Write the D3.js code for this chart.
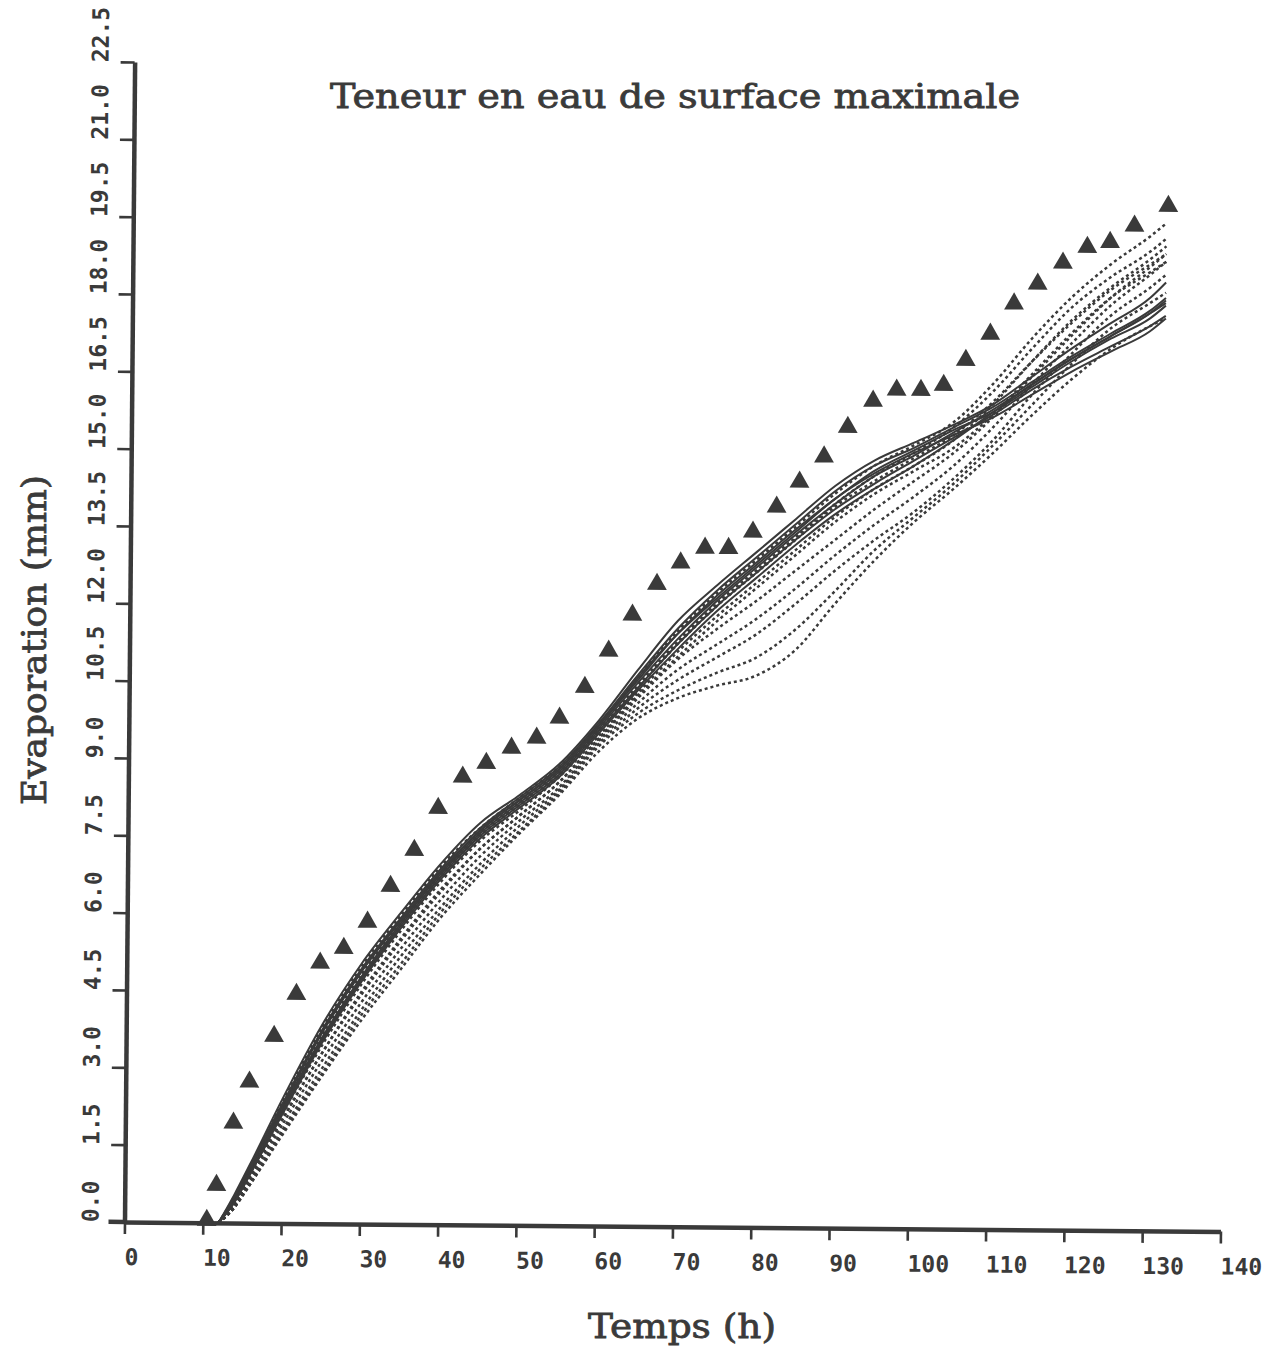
<!DOCTYPE html>
<html>
<head>
<meta charset="utf-8">
<script src="https://cdn.jsdelivr.net/npm/d3@7"></script>
<style>
  body { margin:0; background:#fff; }
  svg { display:block; }
</style>
</head>
<body>
<svg id="chart"></svg>
<script>
// measured points (triangles)
var obsTime = [10.5, 11.7, 13.8, 15.8, 18.9, 21.7, 24.7, 27.7, 30.7, 33.6, 36.6, 39.6, 42.7, 45.7, 48.9, 52.1, 55.0, 58.2, 61.2, 64.2, 67.3, 70.3, 73.4, 76.4, 79.5, 82.5, 85.4, 88.5, 91.5, 94.7, 97.7, 100.8, 103.7, 106.5, 109.6, 112.6, 115.6, 118.8, 121.9, 124.8, 127.9, 132.2];
var obsEvap = [0.05, 0.73, 1.94, 2.74, 3.63, 4.45, 5.06, 5.35, 5.86, 6.56, 7.26, 8.08, 8.69, 8.96, 9.26, 9.46, 9.85, 10.45, 11.16, 11.86, 12.46, 12.88, 13.17, 13.17, 13.49, 13.98, 14.47, 14.96, 15.54, 16.05, 16.27, 16.27, 16.37, 16.86, 17.37, 17.96, 18.35, 18.76, 19.07, 19.17, 19.49, 19.88];

// simulated curves, all on the same time steps
var simTime = [12, 14, 16, 20, 25, 30, 35, 40, 45, 50, 55, 60, 65, 70, 75, 80, 85, 90, 95, 100, 105, 110, 115, 120, 125, 130, 132];

var solidRuns = [
  [0, 0.55, 1.15, 2.4, 3.85, 5.05, 6.05, 7.0, 7.8, 8.35, 8.95, 9.8, 10.8, 11.75, 12.45, 13.1, 13.75, 14.4, 14.9, 15.25, 15.6, 16.0, 16.55, 17.1, 17.6, 18.1, 18.4],
  [0, 0.5, 1.1, 2.3, 3.75, 4.95, 5.95, 6.9, 7.7, 8.3, 8.9, 9.75, 10.7, 11.6, 12.35, 13.0, 13.65, 14.3, 14.8, 15.15, 15.55, 15.95, 16.45, 16.95, 17.4, 17.85, 18.1],
  [0, 0.45, 1.05, 2.25, 3.7, 4.9, 5.9, 6.85, 7.65, 8.25, 8.85, 9.7, 10.6, 11.5, 12.25, 12.9, 13.55, 14.15, 14.7, 15.1, 15.5, 15.85, 16.35, 16.85, 17.3, 17.7, 17.95],
  [0, 0.45, 1.0, 2.2, 3.6, 4.8, 5.85, 6.8, 7.6, 8.2, 8.8, 9.65, 10.55, 11.4, 12.15, 12.8, 13.45, 14.05, 14.6, 15.0, 15.45, 15.9, 16.4, 16.9, 17.35, 17.8, 18.05],
  [0, 0.4, 0.95, 2.15, 3.55, 4.75, 5.8, 6.75, 7.55, 8.15, 8.75, 9.6, 10.45, 11.3, 12.05, 12.7, 13.35, 13.95, 14.45, 14.9, 15.35, 15.8, 16.3, 16.75, 17.15, 17.55, 17.75],
  [0, 0.4, 0.95, 2.1, 3.5, 4.7, 5.75, 6.7, 7.5, 8.1, 8.7, 9.55, 10.4, 11.2, 11.95, 12.6, 13.25, 13.85, 14.35, 14.8, 15.3, 15.85, 16.4, 16.9, 17.35, 17.8, 18.0],
  [0, 0.5, 1.1, 2.3, 3.7, 4.9, 5.9, 6.85, 7.65, 8.25, 8.85, 9.7, 10.65, 11.5, 12.2, 12.85, 13.5, 14.15, 14.65, 15.05, 15.4, 15.75, 16.2, 16.65, 17.05, 17.45, 17.7]
];

var dottedRuns = [
  [0, 0.5, 1.1, 2.35, 3.8, 5.0, 6.0, 6.95, 7.7, 8.3, 8.9, 9.7, 10.65, 11.55, 12.3, 12.95, 13.6, 14.25, 14.8, 15.2, 15.65, 16.4, 17.3, 18.1, 18.75, 19.3, 19.55],
  [0, 0.45, 1.05, 2.25, 3.65, 4.85, 5.85, 6.8, 7.6, 8.2, 8.8, 9.6, 10.5, 11.35, 12.1, 12.75, 13.4, 14.05, 14.6, 15.05, 15.55, 16.25, 17.1, 17.9, 18.5, 19.0, 19.25],
  [0, 0.4, 0.95, 2.1, 3.45, 4.65, 5.7, 6.65, 7.45, 8.05, 8.7, 9.5, 10.35, 11.15, 11.85, 12.5, 13.15, 13.8, 14.35, 14.8, 15.3, 16.0, 16.85, 17.65, 18.3, 18.85, 19.1],
  [0, 0.35, 0.9, 2.0, 3.3, 4.5, 5.55, 6.5, 7.3, 7.95, 8.6, 9.45, 10.3, 11.05, 11.75, 12.4, 13.05, 13.7, 14.25, 14.7, 15.15, 15.8, 16.6, 17.4, 18.1, 18.6, 18.8],
  [0, 0.45, 1.0, 2.2, 3.55, 4.75, 5.8, 6.75, 7.55, 8.15, 8.75, 9.6, 10.45, 11.3, 12.05, 12.7, 13.35, 14.0, 14.5, 14.95, 15.4, 16.05, 16.85, 17.6, 18.25, 18.75, 18.95],
  [0, 0.35, 0.9, 2.0, 3.3, 4.45, 5.5, 6.45, 7.3, 7.95, 8.6, 9.45, 10.25, 11.0, 11.6, 12.15, 12.75, 13.35, 13.95, 14.5, 15.05, 15.75, 16.55, 17.35, 18.1, 18.7, 18.95],
  [0, 0.3, 0.85, 1.9, 3.15, 4.3, 5.35, 6.3, 7.15, 7.85, 8.5, 9.4, 10.15, 10.8, 11.3, 11.8, 12.4, 13.05, 13.65, 14.2, 14.8, 15.55, 16.4, 17.2, 17.95, 18.55, 18.8],
  [0, 0.3, 0.8, 1.8, 3.0, 4.15, 5.2, 6.15, 7.0, 7.75, 8.45, 9.35, 10.05, 10.6, 11.05, 11.5, 12.1, 12.75, 13.35, 13.9, 14.55, 15.3, 16.2, 17.0, 17.75, 18.3, 18.55],
  [0, 0.3, 0.75, 1.75, 2.9, 4.05, 5.05, 6.05, 6.9, 7.65, 8.4, 9.3, 9.95, 10.4, 10.75, 11.05, 11.6, 12.35, 13.15, 13.8, 14.45, 15.2, 16.0, 16.8, 17.5, 18.0, 18.2],
  [0, 0.3, 0.75, 1.7, 2.85, 3.95, 4.95, 5.95, 6.8, 7.6, 8.35, 9.2, 9.85, 10.25, 10.5, 10.7, 11.2, 12.1, 12.95, 13.7, 14.35, 15.05, 15.8, 16.5, 17.1, 17.55, 17.7]
];

var xTicks = [0, 10, 20, 30, 40, 50, 60, 70, 80, 90, 100, 110, 120, 130, 140];
var yTicks = [0, 1.5, 3, 4.5, 6, 7.5, 9, 10.5, 12, 13.5, 15, 16.5, 18, 19.5, 21, 22.5];

var titleText = "Teneur en eau de surface maximale";
var xTitle = "Temps (h)";
var yTitle = "Evaporation (mm)";

var ink = "#3a3a3a";

var drawChart = function()
{
    var screen = {width:1269, height:1348};
    // origin of the plot on the page, the scan is turned a little
    var origin = {x:124.5, y:1222, tilt:0.5};
    var graph = {width:1096, height:1160};

    var svg = d3.select("#chart")
        .attr("width", screen.width)
        .attr("height", screen.height);

    svg.append("rect")
        .attr("width", screen.width)
        .attr("height", screen.height)
        .attr("fill", "#fff");

    var xScale = d3.scaleLinear()
        .domain([0, 140])
        .range([0, graph.width]);

    var yScale = d3.scaleLinear()
        .domain([0, 22.5])
        .range([0, -graph.height]);

    var plot = svg.append("g")
        .attr("transform", "translate(" + origin.x + "," + origin.y + ") rotate(" + origin.tilt + ")");

    // simulated curves
    var line = d3.line()
        .x(function(d, i) { return xScale(simTime[i]); })
        .y(function(d) { return yScale(d); })
        .curve(d3.curveMonotoneX);

    plot.selectAll(".dotted")
        .data(dottedRuns)
        .enter()
        .append("path")
        .attr("class", "dotted")
        .attr("d", line)
        .attr("fill", "none")
        .attr("stroke", ink)
        .attr("stroke-width", 2.5)
        .attr("stroke-dasharray", "3,3");

    plot.selectAll(".solid")
        .data(solidRuns)
        .enter()
        .append("path")
        .attr("class", "solid")
        .attr("d", line)
        .attr("fill", "none")
        .attr("stroke", ink)
        .attr("stroke-width", 2);

    // observed values
    plot.selectAll(".obs")
        .data(obsTime)
        .enter()
        .append("path")
        .attr("class", "obs")
        .attr("d", d3.symbol().type(d3.symbolTriangle).size(170))
        .attr("transform", function(d, i) {
            return "translate(" + xScale(d) + "," + yScale(obsEvap[i]) + ")";
        })
        .attr("fill", ink);

    // axes
    var xAxis = plot.append("g")
        .call(d3.axisBottom(xScale)
            .tickValues(xTicks)
            .tickSize(12)
            .tickSizeOuter(0)
            .tickFormat(d3.format("d")));

    var yAxis = plot.append("g")
        .call(d3.axisLeft(yScale)
            .tickValues(yTicks)
            .tickSize(14)
            .tickSizeOuter(0)
            .tickFormat(d3.format(".1f")));

    [xAxis, yAxis].forEach(function(ax)
    {
        ax.select(".domain")
            .attr("stroke", ink)
            .attr("stroke-width", 4.5);
        ax.selectAll(".tick line")
            .attr("stroke", ink)
            .attr("stroke-width", 2.6);
        ax.selectAll(".tick text")
            .attr("fill", ink)
            .style("font-family", "'DejaVu Sans Mono', monospace")
            .style("font-weight", "bold")
            .style("font-size", "23px");
    });

    xAxis.selectAll(".tick text")
        .attr("x", 0)
        .attr("y", 43)
        .attr("dy", 0)
        .attr("text-anchor", "start");

    yAxis.selectAll(".tick text")
        .attr("x", 0)
        .attr("y", -26)
        .attr("dy", 0)
        .attr("text-anchor", "start")
        .attr("transform", "rotate(-90)");

    // small stub of the x axis left of the origin
    plot.append("line")
        .attr("x1", -16).attr("x2", 0)
        .attr("y1", yScale(0)).attr("y2", yScale(0))
        .attr("stroke", ink)
        .attr("stroke-width", 4.5);

    // titles, regular serif thickened a bit like the typewriter print
    var addTitle = function(txt, len, transform)
    {
        svg.append("text")
            .attr("transform", transform)
            .attr("text-anchor", "middle")
            .attr("textLength", len)
            .attr("lengthAdjust", "spacingAndGlyphs")
            .attr("fill", ink)
            .attr("stroke", ink)
            .attr("stroke-width", 0.8)
            .style("font-family", "'DejaVu Serif', serif")
            .style("font-size", "34px")
            .text(txt);
    }

    addTitle(titleText, 690, "translate(675,108)");
    addTitle(xTitle, 188, "translate(682,1338)");
    addTitle(yTitle, 330, "translate(46,640) rotate(-90)");
}

drawChart();
</script>
</body>
</html>
